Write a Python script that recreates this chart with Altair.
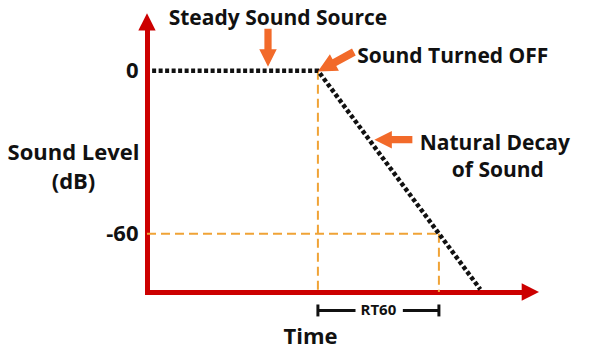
import altair as alt
import pandas as pd

# ---- data ----
curve_time = [0.03, 1.0, 1.95]          # steady source -> switch off -> decay
curve_level = [0, 0, -80.5]             # dB
sound_off_time = 1.0
rt60 = 0.708
decay_target = -60
axis_bottom = -81.5
tick_values = [0, -60]

FONT = "Open Sans"
RED = "#CC0000"
ORANGE = "#F26A2A"
GUIDE = "#F0A336"
INK = "#111111"

X = alt.Scale(domain=[0, 2.2], nice=False, zero=False)
Y = alt.Scale(domain=[axis_bottom, 15], nice=False, zero=False)

curve = pd.DataFrame({"t": curve_time, "db": curve_level, "o": [0, 1, 2]})

guides = pd.DataFrame({
    "t":  [sound_off_time, 0, sound_off_time + rt60],
    "t2": [sound_off_time, sound_off_time + rt60, sound_off_time + rt60],
    "db": [curve_level[1], decay_target, decay_target],
    "db2": [axis_bottom, decay_target, axis_bottom],
})

# bracket under the axis
br_y = -88.3
bracket = pd.DataFrame({
    "t":  [sound_off_time, sound_off_time + 0.497, sound_off_time, sound_off_time + rt60],
    "t2": [sound_off_time + 0.22, sound_off_time + rt60, sound_off_time, sound_off_time + rt60],
    "db": [br_y, br_y, br_y + 2.2, br_y + 2.2],
    "db2": [br_y, br_y, br_y - 2.2, br_y - 2.2],
})
rt_label = pd.DataFrame({"t": [sound_off_time + 0.354], "db": [br_y], "txt": ["RT60"]})

notes = pd.DataFrame({
    "t": [0.766, 1.789, 2.035, 2.053],
    "db": [16.9, 2.9, -29.1, -39.0],
    "txt": ["Steady Sound Source", "Sound Turned OFF", "Natural Decay", "of Sound"],
})

ARROW = "M-1,-0.19 L0.08,-0.19 L0.08,-0.46 L1,0 L0.08,0.46 L0.08,0.19 L-1,0.19 Z"
arrows = pd.DataFrame({
    "t": [0.708, 1.105, 1.4415],
    "db": [8.5, 3.3, -25.4],
    "ang": [90, 151.5, 180],
    "sz": [38 * 38, 41 * 41, 38 * 38],
})

heads = pd.DataFrame({
    "t": [0, 2.243],
    "db": [18.0, axis_bottom],
    "k": ["up", "right"],
})

guide_layer = alt.Chart(guides).mark_rule(
    color=GUIDE, strokeWidth=2, strokeDash=[9, 5]
).encode(
    x=alt.X("t:Q", scale=X, axis=alt.Axis(
        title="Time", domain=True, domainColor=RED, domainWidth=5, domainCap="square",
        ticks=False, labels=False, grid=False,
        titleFont=FONT, titleFontSize=22, titleFontWeight="bold", titleColor=INK,
        titleX=163, titleY=51, titleBaseline="alphabetic", titleAnchor="start", titleAlign="center")),
    x2="t2:Q",
    y=alt.Y("db:Q", scale=Y, axis=alt.Axis(
        values=tick_values, title=["Sound Level", "(dB)"], domain=True, domainColor=RED,
        domainWidth=5, domainCap="square", ticks=False, grid=False,
        labelExpr="replace(datum.label, '\u2212', '-')",
        labelFont=FONT, labelFontSize=22, labelFontWeight="bold", labelColor=INK,
        labelPadding=9,
        titleFont=FONT, titleFontSize=22, titleFontWeight="bold", titleColor=INK,
        titleAngle=0, titleX=-74, titleY=129, titleAlign="center",
        titleBaseline="alphabetic", titleLineHeight=29)),
    y2="db2:Q",
)

curve_layer = alt.Chart(curve).mark_line(
    color=INK, strokeWidth=4.5, strokeDash=[4, 2.5], strokeCap="butt"
).encode(x=alt.X("t:Q", scale=X), y=alt.Y("db:Q", scale=Y), order="o:Q")

bracket_layer = alt.Chart(bracket).mark_rule(color=INK, strokeWidth=3).encode(
    x=alt.X("t:Q", scale=X), x2="t2:Q", y=alt.Y("db:Q", scale=Y), y2="db2:Q")

rt_layer = alt.Chart(rt_label).mark_text(
    font=FONT, fontSize=15, fontWeight="bold", color=INK, baseline="middle", align="center"
).encode(x=alt.X("t:Q", scale=X), y=alt.Y("db:Q", scale=Y), text="txt:N")

note_layer = alt.Chart(notes).mark_text(
    font=FONT, fontSize=21, fontWeight="bold", color=INK, baseline="alphabetic", align="center"
).encode(x=alt.X("t:Q", scale=X), y=alt.Y("db:Q", scale=Y), text="txt:N")

arrow_layer = alt.Chart(arrows).mark_point(
    shape=ARROW, filled=True, color=ORANGE, opacity=1, strokeWidth=0
).encode(
    x=alt.X("t:Q", scale=X), y=alt.Y("db:Q", scale=Y),
    angle=alt.Angle("ang:Q", scale=None), size=alt.Size("sz:Q", scale=None))

head_layer = alt.Chart(heads).mark_point(
    filled=True, color=RED, opacity=1, strokeWidth=0, size=300
).encode(
    x=alt.X("t:Q", scale=X), y=alt.Y("db:Q", scale=Y),
    shape=alt.Shape("k:N", scale=alt.Scale(
        domain=["up", "right"],
        range=["M0,-1 L1,1 L-1,1 Z", "M-1,-1 L1,0 L-1,1 Z"]), legend=None))

chart = alt.layer(
    guide_layer, curve_layer, bracket_layer, rt_layer, note_layer, arrow_layer, head_layer
).properties(
    width=376, height=262,
    autosize=alt.AutoSizeParams(type="none"),
    padding={"left": 147, "top": 30, "right": 77, "bottom": 62},
    background="white",
).configure_view(stroke=None)

chart.save("out.html", embed_options={"renderer": "svg", "actions": False})
